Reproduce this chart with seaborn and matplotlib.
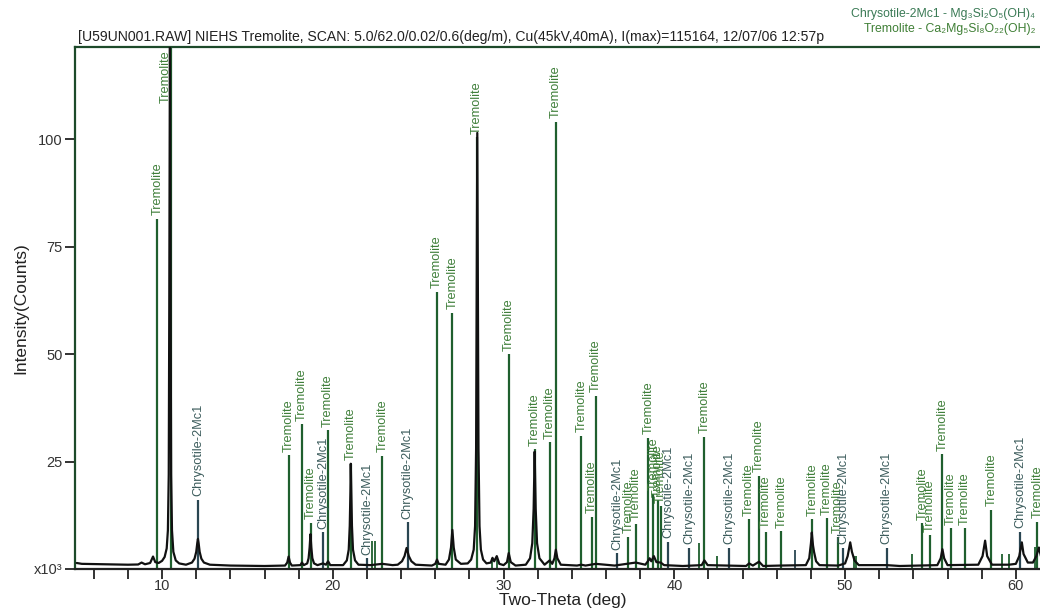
import matplotlib
matplotlib.use("Agg")
import matplotlib.pyplot as plt
import seaborn as sns

# Measured scan: two-theta (deg) and intensity (thousands of counts)
scan_deg = [
    5.0, 5.3, 6.5, 8.0, 8.6, 8.8, 9.0, 9.3, 9.47, 9.6, 9.8, 10.0, 10.15, 10.27,
    10.34, 10.39, 10.42, 10.46, 10.5, 10.53, 10.58, 10.66, 10.8, 11.0, 11.4,
    11.75, 11.9, 12.0, 12.06, 12.1, 12.14, 12.2, 12.3, 12.45, 12.8, 14.0, 16.0,
    17.2, 17.33, 17.41, 17.49, 17.6, 18.1, 18.19, 18.3, 18.5, 18.58, 18.64,
    18.69, 18.74, 18.8, 18.9, 19.1, 19.42, 19.6, 19.72, 19.85, 20.6, 20.82,
    20.93, 20.99, 21.03, 21.05, 21.08, 21.12, 21.18, 21.3, 21.5, 22.2, 22.9,
    23.5, 23.8, 24.05, 24.2, 24.32, 24.45, 24.6, 24.85, 25.8, 26.0, 26.1, 26.2,
    26.6, 26.8, 26.92, 27.0, 27.08, 27.2, 27.5, 27.9, 28.1, 28.25, 28.33, 28.39,
    28.43, 28.46, 28.49, 28.53, 28.59, 28.67, 28.8, 29.0, 29.25, 29.35, 29.45,
    29.6, 29.75, 30.0, 30.2, 30.3, 30.42, 30.7, 31.3, 31.55, 31.68, 31.76,
    31.82, 31.88, 31.96, 32.1, 32.4, 32.7, 32.85, 32.98, 33.06, 33.15, 33.35,
    34.3, 34.55, 34.8, 35.4, 35.98, 36.5, 37.74, 38.3, 38.45, 38.55, 38.65,
    38.8, 38.95, 39.2, 39.4, 40.5, 41.6, 41.76, 41.95, 44.2, 44.38, 44.6,
    44.96, 45.2, 46.2, 47.7, 47.9, 48.0, 48.05, 48.12, 48.18, 48.3, 48.5, 49.6,
    50.0, 50.15, 50.3, 50.4, 50.55, 50.8, 52.44, 53.2, 55.4, 55.6, 55.7, 55.8,
    56.0, 57.8, 58.05, 58.2, 58.32, 58.6, 59.2, 59.6, 60.0, 60.2, 60.35, 60.45,
    60.7, 61.0, 61.2, 61.35, 61.5, 62.0,
]
scan_kcounts = [
    1.4, 1.2, 1.1, 1.0, 1.05, 1.5, 1.1, 1.4, 2.9, 1.6, 1.4, 1.9, 2.8, 4.8,
    9.0, 22.0, 60.0, 126.0, 60.0, 22.0, 9.0, 4.0, 2.0, 1.3, 1.0,
    1.5, 2.4, 4.0, 6.0, 7.0, 6.0, 4.0, 2.4, 1.5, 1.0, 0.8, 0.7,
    0.8, 1.5, 2.9, 1.5, 0.8, 0.9, 1.5, 0.9, 1.3, 2.5, 5.0,
    8.1, 5.0, 2.5, 1.3, 0.9, 1.3, 1.0, 1.8, 0.9, 0.9, 2.0,
    4.5, 10.0, 18.0, 24.5, 18.0, 10.0, 4.5, 2.0, 1.0, 0.9, 1.2,
    0.9, 1.0, 1.8, 3.0, 4.9, 3.0, 1.8, 1.0, 0.8, 1.2, 2.2, 1.2,
    1.0, 2.2, 5.0, 9.1, 5.0, 2.2, 1.2, 1.3, 2.2, 4.5, 10.0, 28.0,
    70.0, 101.5, 70.0, 28.0, 10.0, 4.5, 2.2, 1.3, 1.5, 2.6, 1.8,
    3.0, 1.2, 0.9, 1.6, 3.7, 1.6, 0.8, 1.0, 2.5, 6.0, 14.0,
    27.3, 14.0, 6.0, 2.5, 1.0, 2.0, 1.2, 2.5, 4.5, 2.5, 1.0,
    0.8, 1.0, 0.8, 1.2, 1.0, 0.8, 1.5, 1.0, 1.8, 2.5, 1.8,
    3.0, 1.6, 1.5, 0.9, 0.7, 0.9, 2.0, 0.9, 0.7, 1.3, 0.8,
    1.7, 0.7, 0.8, 0.9, 2.5, 6.0, 8.5, 5.5, 4.0, 1.8, 0.9, 0.8,
    1.3, 3.0, 6.2, 4.0, 2.0, 0.9, 0.9, 0.7, 0.9, 2.5, 4.6, 2.5,
    0.9, 1.0, 3.0, 6.6, 3.0, 1.0, 1.0, 1.0, 1.2, 3.0, 6.2, 3.5,
    1.5, 1.5, 3.0, 5.0, 2.5, 1.0,
]

# Reference pattern lines (position in deg, height in thousands of counts)
tremolite_deg = [
    9.72, 10.55, 17.41, 18.19, 18.70, 19.72, 21.05, 22.90, 26.10, 27.00,
    28.45, 30.32, 31.85, 32.73, 33.05, 34.55, 35.17, 35.39, 37.31, 37.74,
    38.48, 38.77, 39.05, 39.20, 41.76, 44.38, 44.96, 45.36, 46.27, 48.09,
    48.93, 49.59, 54.53, 54.98, 55.70, 56.19, 57.01, 58.57, 61.26,
]
tremolite_h = [
    81.5, 130.0, 26.5, 33.7, 10.8, 32.3, 24.5, 26.4, 64.5, 59.7,
    100.5, 50.0, 27.9, 29.5, 104.1, 31.0, 12.2, 40.3, 7.5, 10.5,
    30.5, 17.5, 16.0, 14.6, 30.8, 11.6, 21.7, 8.7, 8.8, 11.6,
    11.8, 7.5, 10.7, 7.9, 26.7, 9.5, 9.5, 13.8, 11.0,
]
chrysotile_deg = [12.10, 19.42, 22.00, 24.38, 36.67, 39.65, 40.88, 43.22,
                  49.88, 52.44, 60.25]
chrysotile_h = [16.1, 8.5, 2.5, 10.9, 3.7, 6.4, 4.9, 4.9, 5.0, 5.0, 8.7]

# Weak lines drawn without a name
minor_trem_deg = [22.30, 22.45, 29.35, 29.60, 41.45, 42.50, 50.53, 50.66,
                  53.94, 59.20, 59.57, 61.11]
minor_trem_h = [6.5, 6.5, 2.5, 3.1, 6.0, 3.0, 3.1, 3.1, 3.5, 3.6, 3.6, 5.2]
minor_chry_deg = [47.07]
minor_chry_h = [4.4]

x_major = [10, 20, 30, 40, 50, 60]
x_minor = list(range(6, 62, 2))
y_ticks = [0, 25, 50, 75, 100]
y_ticklabels = ["x10³", "25", "50", "75", "100"]

title_text = ("[U59UN001.RAW] NIEHS Tremolite, SCAN: 5.0/62.0/0.02/0.6(deg/m), "
              "Cu(45kV,40mA), I(max)=115164, 12/07/06 12:57p")
phase_legend = ["Chrysotile-2Mc1 - Mg₃Si₂O₅(OH)₄",
                "Tremolite - Ca₂Mg₅Si₈O₂₂(OH)₂"]

sns.set_theme(style="white")
plt.rcParams["font.family"] = ["Liberation Sans", "DejaVu Sans"]

TREM_LINE = "#1f5f2e"
TREM_TEXT = "#3f7f3a"
CHRY_LINE = "#2a4652"
CHRY_TEXT = "#3c5c5c"
FRAME = "#1d4a2a"

XMIN, XMAX = 4.9, 62.0
YMAX = 121.5

fig = plt.figure(figsize=(10.4, 6.11), dpi=100)
ax = fig.add_axes([75 / 1040, 42 / 611, 975 / 1040, 522 / 611])
ax.set_xlim(XMIN, XMAX)
ax.set_ylim(0, YMAX)


def draw_lines(xs, hs, color, label, text_color, lw=1.6):
    ax.vlines(xs, 0, hs, colors=color, lw=lw, zorder=2)
    if label is None:
        return
    for x, h in zip(xs, hs):
        if h + 14 > YMAX:
            ax.text(x - 0.35, YMAX - 0.8, label, rotation=90, ha="center",
                    va="top", fontsize=9.2, color=text_color, zorder=2)
        else:
            ax.annotate(label, (x, h), xytext=(0, 2.5),
                        textcoords="offset points", rotation=90,
                        ha="center", va="bottom", fontsize=9.2,
                        color=text_color, zorder=2, annotation_clip=False)


draw_lines(tremolite_deg, tremolite_h, TREM_LINE, "Tremolite", TREM_TEXT)
draw_lines(chrysotile_deg, chrysotile_h, CHRY_LINE, "Chrysotile-2Mc1", CHRY_TEXT)
draw_lines(minor_trem_deg, minor_trem_h, TREM_LINE, None, None, lw=1.3)
draw_lines(minor_chry_deg, minor_chry_h, CHRY_LINE, None, None, lw=1.3)

sns.lineplot(x=scan_deg, y=scan_kcounts, color="#111111", lw=1.6, ax=ax,
             zorder=4)

# Frame: left and top in dark green, bottom black, right open
for side in ("left", "top"):
    ax.spines[side].set_color(FRAME)
    ax.spines[side].set_linewidth(1.6)
ax.spines["bottom"].set_color("#222222")
ax.spines["bottom"].set_linewidth(1.6)
ax.spines["right"].set_visible(False)

ax.set_xticks(x_major)
ax.set_xticks(x_minor, minor=True)
ax.set_yticks(y_ticks)
ax.set_yticklabels(y_ticklabels)
ax.tick_params(axis="x", which="both", direction="out", length=7, width=1.3,
               color="#222222", bottom=True, labelsize=10.5, labelcolor="#333333",
               pad=0)
ax.tick_params(axis="y", which="major", direction="out", length=7, width=1.3,
               color="#222222", left=True, labelsize=10.5, labelcolor="#333333",
               pad=2)

ax.set_xlabel("Two-Theta (deg)", fontsize=12.5, color="#222222", labelpad=0)
ax.set_ylabel("Intensity(Counts)", fontsize=12.5, color="#222222", labelpad=4)
ax.grid(False)

fig.text(78 / 1040, 1 - 44 / 611, title_text, fontsize=10.1, color="#222222",
         ha="left", va="bottom")
fig.text(1035 / 1040, 1 - 20 / 611, phase_legend[0], fontsize=8.8,
         color="#3a7a55", ha="right", va="bottom")
fig.text(1035 / 1040, 1 - 35 / 611, phase_legend[1], fontsize=8.8,
         color="#3f7f35", ha="right", va="bottom")

fig.savefig("out.png", dpi=100, facecolor="white")
